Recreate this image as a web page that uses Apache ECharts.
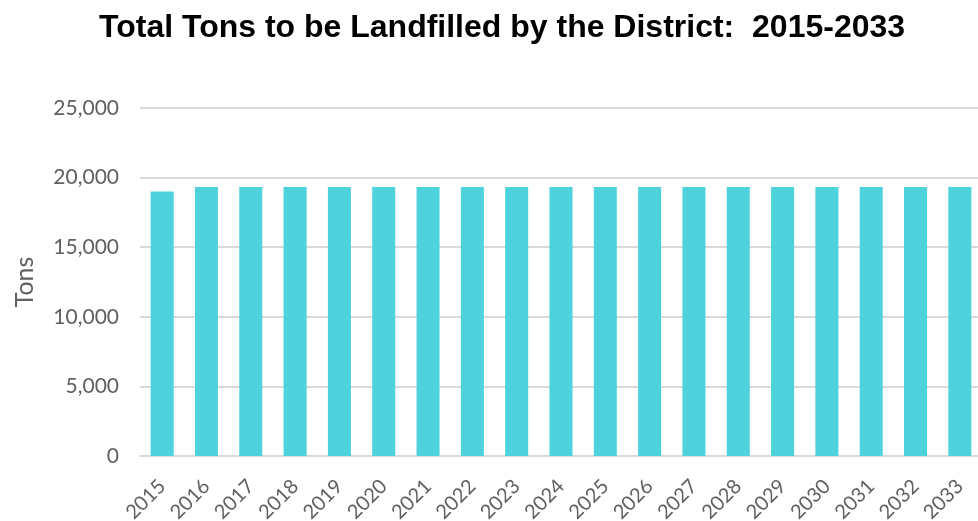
<!DOCTYPE html>
<html>
<head>
<meta charset="utf-8">
<script src="https://cdn.jsdelivr.net/npm/echarts@6/dist/echarts.min.js"></script>
<style>
html,body{margin:0;padding:0;background:#fff;}
#c{width:978px;height:521px;}
</style>
</head>
<body>
<div id="c"></div>
<script>
const titleText = 'Total Tons to be Landfilled by the District:  2015-2033';
const years = ['2015','2016','2017','2018','2019','2020','2021','2022','2023','2024','2025','2026','2027','2028','2029','2030','2031','2032','2033'];
const tons = [19010,19330,19330,19330,19330,19330,19330,19330,19330,19330,19330,19330,19330,19330,19330,19330,19330,19330,19330];
const yMin = 0, yMax = 25000, yStep = 5000;
const yAxisName = 'Tons';

const chart = echarts.init(document.getElementById('c'));
chart.setOption({
  animation: false,
  title: {
    text: titleText,
    left: 94,
    top: 7,
    textStyle: {fontFamily: 'Liberation Sans, Arial', fontWeight: 'bold', fontSize: 32, color: '#000'}
  },
  grid: {left: 140, right: -4, top: 108, bottom: 65, containLabel: false, outerBoundsMode: 'none'},
  xAxis: {
    type: 'category',
    data: years,
    axisTick: {show: false},
    axisLine: {lineStyle: {color: '#d9d9d9', width: 2}},
    axisLabel: {rotate: 45, margin: 27, fontFamily: 'Lato', fontSize: 20, color: '#606060', interval: 0}
  },
  yAxis: {
    type: 'value',
    min: yMin, max: yMax, interval: yStep,
    name: yAxisName,
    nameLocation: 'middle',
    nameGap: 103,
    nameTextStyle: {fontFamily: 'Lato', fontSize: 25, color: '#606060'},
    axisLine: {show: false},
    axisTick: {show: false},
    splitLine: {lineStyle: {color: '#d9d9d9', width: 2}},
    axisLabel: {
      margin: 21,
      fontFamily: 'Lato', fontSize: 21, color: '#606060',
      formatter: v => v.toLocaleString('en-US')
    }
  },
  series: [{
    type: 'bar',
    data: tons,
    barWidth: '52%',
    itemStyle: {color: '#4ed3dc'}
  }]
});
</script>
</body>
</html>
